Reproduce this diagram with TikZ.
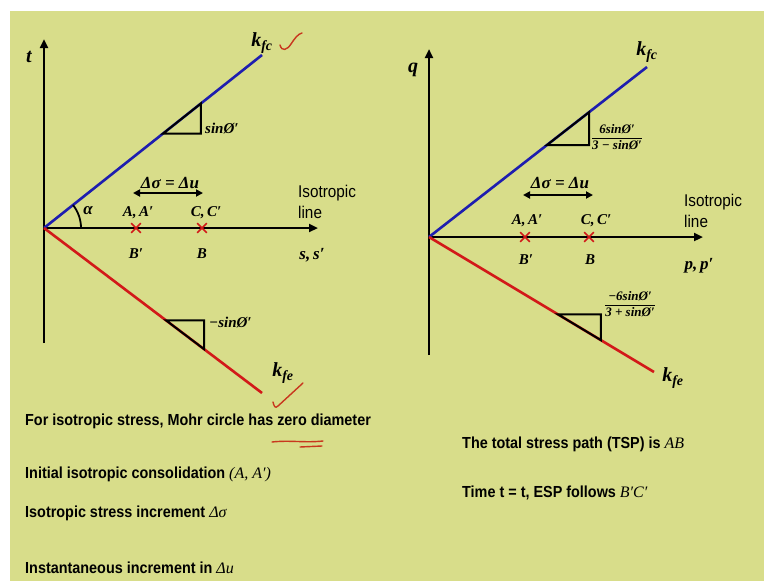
\documentclass[tikz,border=0pt]{standalone}
\usepackage{amsmath}
\usepackage{fontspec}
\newfontfamily\narrowsf[FakeStretch=0.9]{Liberation Sans}
\newfontfamily\lblserif{Liberation Serif}
\usepackage{tikz}
\usetikzlibrary{arrows.meta,calc,shapes.misc}

\definecolor{slidebg}{RGB}{216,221,138}
\definecolor{kblue}{RGB}{30,30,175}
\definecolor{kred}{RGB}{210,25,25}
\definecolor{penred}{RGB}{200,55,30}

\newcommand{\nm}[1]{{\lblserif\mdseries\itshape #1}}
\newcommand{\fr}[2]{$\dfrac{\text{\lblserif\bfseries\itshape #1}}{\text{\lblserif\bfseries\itshape #2}}$}

\tikzset{
  axis/.style={line width=2.6pt, -{Triangle[length=9pt,width=8pt]}},
  kfline/.style={line width=2.6pt, draw=kblue},
  keline/.style={line width=2.6pt, draw=kred},
  slopebox/.style={line width=2pt, draw=black},
  xmark/.style={cross out, draw=kred, line width=1.7pt, minimum size=8pt, inner sep=0pt},
  inc/.style={line width=2pt, {Triangle[length=7pt,width=7pt]}-{Triangle[length=7pt,width=7pt]}},
  lbl/.style={inner sep=0pt, font=\lblserif\bfseries\itshape\fontsize{15}{18}\selectfont},
  big/.style={inner sep=0pt, font=\lblserif\bfseries\itshape\fontsize{20}{22}\selectfont},
  frac/.style={inner sep=0pt, font=\fontsize{13}{15}\selectfont},
  isoline/.style={align=left, inner sep=0pt, font=\narrowsf\fontsize{17}{21}\selectfont},
  note/.style={anchor=base west, inner sep=0pt, font=\narrowsf\bfseries\fontsize{16}{19}\selectfont},
  pen/.style={draw=penred, line width=1.4pt, line cap=round, line join=round},
}

\begin{document}
\begin{tikzpicture}[x=1pt,y=-1pt]
  \fill[white] (0,0) rectangle (764,581);
  \fill[slidebg] (10,11) rectangle (764,581);
  \useasboundingbox (0,0) rectangle (764,581);

  % left: t - s plot
  \coordinate (O1) at (44,228);
  \coordinate (t1) at (44,39);
  \coordinate (b1) at (44,343);
  \coordinate (s1) at (318,228);
  \coordinate (fc1) at (262,55);
  \coordinate (fe1) at (262,393);
  \draw[axis] (b1) -- (t1);
  \draw[axis] (O1) -- (s1);
  \draw[kfline] (O1) -- (fc1);
  \draw[keline] (O1) -- (fe1);

  \coordinate (u1a) at ($(O1)!0.546!(fc1)$);
  \coordinate (u1b) at ($(O1)!0.72!(fc1)$);
  \draw[slopebox] (u1a) -| (u1b) -- cycle;
  \coordinate (l1a) at ($(O1)!0.56!(fe1)$);
  \coordinate (l1b) at ($(O1)!0.734!(fe1)$);
  \draw[slopebox] (l1a) -| (l1b) -- cycle;

  \draw[line width=1.8pt] ($(O1)+(37pt,0)$) arc[start angle=0, end angle=38.4, radius=37pt];

  \node[big] (tlab) at (29,57) {t};
  \node[big] (kfc1) at (262,43) {k\textsubscript{fc}};
  \node[big] (kfe1) at (283,373) {k\textsubscript{fe}};
  \node[lbl, anchor=west] (sin1) at (205,128) {sinØ′};
  \node[lbl, anchor=west] (msin1) at (209,322) {−sinØ′};
  \node[lbl, font=\lblserif\bfseries\itshape\fontsize{17}{18}\selectfont] (alpha) at (88,211) {α};

  \node[xmark] (xa1) at (136,228) {};
  \node[xmark] (xc1) at (202,228) {};
  \node[lbl] (aa1) at (138,213) {A,\,A′};
  \node[lbl] (cc1) at (206,213) {C,\,C′};
  \node[lbl] (bb1) at (136,254) {B′};
  \node[lbl] (b1lab) at (202,254) {B};
  \node[lbl, font=\lblserif\bfseries\itshape\fontsize{17}{18}\selectfont] (ss1) at (312,255) {s,\,s′};
  \node[lbl, font=\lblserif\bfseries\itshape\fontsize{17}{18}\selectfont] (dd1) at (170,183) {Δσ = Δu};
  \coordinate (dl1) at (133,193);
  \coordinate (dr1) at (203,193);
  \draw[inc] (dl1) -- (dr1);
  \node[isoline, anchor=north west] (iso1) at (298,185) {Isotropic\\line};

  % right: q - p plot
  \coordinate (O2) at (429,237);
  \coordinate (t2) at (429,49);
  \coordinate (b2) at (429,355);
  \coordinate (p2) at (703,237);
  \coordinate (fc2) at (647,67);
  \coordinate (fe2) at (654,372);
  \draw[axis] (b2) -- (t2);
  \draw[axis] (O2) -- (p2);
  \draw[kfline] (O2) -- (fc2);
  \draw[keline] (O2) -- (fe2);

  \coordinate (u2a) at ($(O2)!0.541!(fc2)$);
  \coordinate (u2b) at ($(O2)!0.734!(fc2)$);
  \draw[slopebox] (u2a) -| (u2b) -- cycle;
  \coordinate (l2a) at ($(O2)!0.573!(fe2)$);
  \coordinate (l2b) at ($(O2)!0.764!(fe2)$);
  \draw[slopebox] (l2a) -| (l2b) -- cycle;

  \node[big] (qlab) at (413,70) {q};
  \node[big] (kfc2) at (647,52) {k\textsubscript{fc}};
  \node[big] (kfe2) at (673,378) {k\textsubscript{fe}};
  \node[frac] (sin2) at (617,137) {\fr{6sinØ′}{3 − sinØ′}};
  \node[frac] (msin2) at (630,304) {\fr{−6sinØ′}{3 + sinØ′}};

  \node[xmark] (xa2) at (525,237) {};
  \node[xmark] (xc2) at (589,237) {};
  \node[lbl] (aa2) at (527,221) {A,\,A′};
  \node[lbl] (cc2) at (596,221) {C,\,C′};
  \node[lbl] (bb2) at (526,260) {B′};
  \node[lbl] (b2lab) at (590,260) {B};
  \node[lbl, font=\lblserif\bfseries\itshape\fontsize{17}{18}\selectfont] (pp2) at (699,266) {p,\,p′};
  \node[lbl, font=\lblserif\bfseries\itshape\fontsize{17}{18}\selectfont] (dd2) at (560,183) {Δσ = Δu};
  \coordinate (dl2) at (523,195);
  \coordinate (dr2) at (593,195);
  \draw[inc] (dl2) -- (dr2);
  \node[isoline, anchor=north west] (iso2) at (684,194) {Isotropic\\line};

  % notes
  \node[note] (n1) at (25,425) {For isotropic stress, Mohr circle has zero diameter};
  \node[note] (n2) at (25,478) {Initial isotropic consolidation \nm{(A, A′)}};
  \node[note] (n3) at (25,517) {Isotropic stress increment \nm{Δσ}};
  \node[note] (n4) at (25,573) {Instantaneous increment in \nm{Δu}};
  \node[note] (n5) at (462,448) {The total stress path (TSP) is \nm{AB}};
  \node[note] (n6) at (462,497) {Time t = t, ESP follows \nm{B′C′}};

  % pen marks
  \draw[pen] (280,45) .. controls (282,52) and (287,50) .. (291,44) .. controls (295,38) and (298,34) .. (302,33);
  \draw[pen] (273,402) .. controls (274,406) and (275,409) .. (278,406) -- (303,383);
  \draw[pen] (272,442) .. controls (290,440) and (305,443) .. (323,441);
  \draw[pen] (300,447) -- (322,446);
\end{tikzpicture}
\end{document}
